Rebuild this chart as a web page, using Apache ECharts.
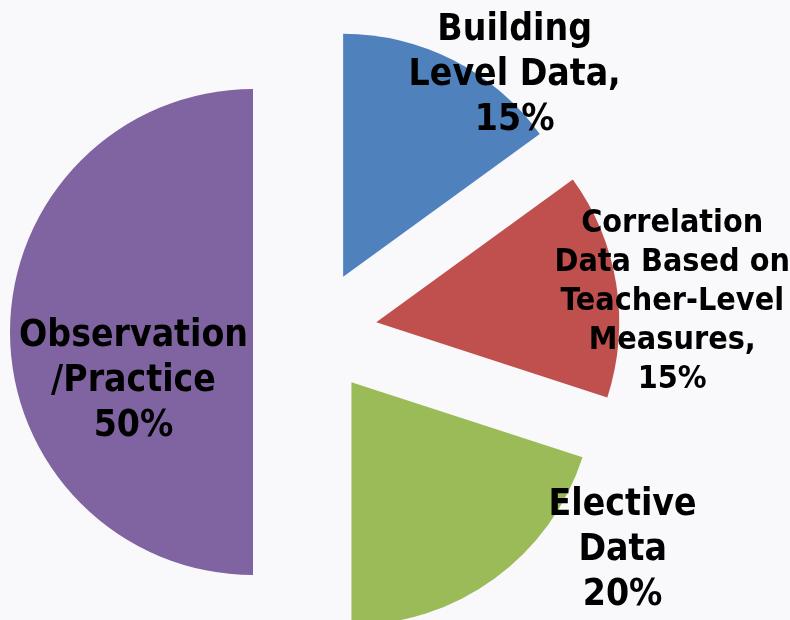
<!DOCTYPE html>
<html>
<head>
<meta charset="utf-8">
<script src="https://cdn.jsdelivr.net/npm/echarts@6/dist/echarts.min.js"></script>
<style>
  html, body { margin: 0; padding: 0; background: #f9f9fc; }
  #chart { width: 790px; height: 620px; }
</style>
</head>
<body>
<div id="chart"></div>
<script>
// slice names (with the line breaks used on the slide) and their shares
const categories = [
  'Building\nLevel Data,',
  'Correlation\nData Based on\nTeacher-Level\nMeasures,',
  'Elective\nData',
  'Observation\n/Practice'
];
const values = [15, 15, 20, 50];
const colors = ['#4f81bd', '#c0504d', '#9bbb59', '#8064a2'];

// label nudges from the default inside spot
const labelShift = [[115, -90], [173, -1], [198, 68], [5, 49]];

let myChart = echarts.init(document.getElementById('chart'));

let data = categories.map((name, i) => {
  let small = i === 1;
  return {
    name: name,
    value: values[i],
    selected: true,
    itemStyle: { color: colors[i] },
    label: {
      fontSize: small ? 32 : 37,
      lineHeight: small ? 39 : 45
    }
  };
});

myChart.setOption({
  backgroundColor: '#f9f9fc',
  animation: false,
  series: [{
    type: 'pie',
    center: [315, 332],
    radius: 243,
    startAngle: 90,
    clockwise: true,
    selectedMode: 'multiple',
    selectedOffset: 62,
    avoidLabelOverlap: false,
    emphasis: { disabled: true },
    label: {
      show: true,
      position: 'inside',
      color: '#000',
      fontFamily: '"DejaVu Sans Condensed", "DejaVu Sans", sans-serif',
      fontWeight: 'bold',
      align: 'center',
      textBorderWidth: 0,
      formatter: p => p.name + '\n' + p.value + '%'
    },
    labelLine: { show: false },
    labelLayout: p => ({ dx: labelShift[p.dataIndex][0], dy: labelShift[p.dataIndex][1] }),
    data: data
  }]
});
</script>
</body>
</html>
